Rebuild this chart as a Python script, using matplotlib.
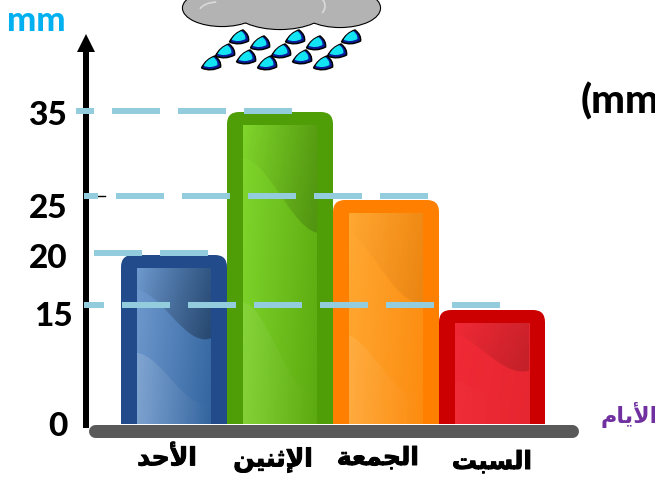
import numpy as np
import matplotlib
matplotlib.use("Agg")
import matplotlib.pyplot as plt
import matplotlib.patheffects as pe
from matplotlib.patches import FancyBboxPatch, Polygon, Ellipse, PathPatch, Arc
from matplotlib.path import Path
from matplotlib.colors import to_rgb
from matplotlib.transforms import Affine2D

plt.rcParams['lines.scale_dashes'] = False

# ---------- data ----------
days = ["الأحد", "الإثنين", "الجمعة", "السبت"]
rain_mm = [20, 35, 25, 15]
tick_labels = ["35", "25", "20", "15", "0"]
y_unit = "mm"
right_note = "(mm)"
x_title = "الأيام"

# the hand-drawn axis of the picture is not linear: value -> height above baseline (px)
scale_values = [-7, 0, 15, 20, 25, 35, 48]
scale_heights = [-54, 0, 114, 169, 224, 312, 424]

# guide lines: value, first pixel, last pixel, dash offset
guide_levels = [35.1, 25.45, 20.18, 15.45]
guide_starts = [76, 84, 94, 84]
guide_ends = [292, 428, 208, 500]
guide_offsets = [30, 34, 0, 28]

rim_colors = ["#214B8A", "#4F9E08", "#FF8000", "#CC0000"]
grad_left = ["#6F9ACF", "#80D62C", "#FFA832", "#F02A36"]
grad_right = ["#34659F", "#5CAA10", "#FC8C10", "#E62630"]
dark_strength = [.32, .16, .07, .16]
light_strength = [.16, .08, .09, .02]
wave_x = [0, .25, .55, 1]
wave_upper = [[.14, .205, .35, .45], [.11, .15, .25, .36], [.08, .175, .32, .42], [.11, .205, .37, .47]]
wave_lower = [[.545, .61, .76, .86], [.595, .65, .79, .88], [.58, .65, .78, .87], [.57, .64, .765, .85]]

drop_x = [239, 260, 295, 316, 351, 225, 246, 281, 302, 337, 211, 267, 323]
drop_y = [37, 43, 37, 43, 37, 51, 57, 51, 57, 51, 63, 63, 63]

# ---------- Arabic shaping (matplotlib has no shaping engine) ----------
FORMS = {
    'ا': (0xFE8D, 0xFE8E, None, None), 'أ': (0xFE83, 0xFE84, None, None),
    'إ': (0xFE87, 0xFE88, None, None), 'د': (0xFEA9, 0xFEAA, None, None),
    'ة': (0xFE93, 0xFE94, None, None),
    'ب': (0xFE8F, 0xFE90, 0xFE91, 0xFE92), 'ت': (0xFE95, 0xFE96, 0xFE97, 0xFE98),
    'ث': (0xFE99, 0xFE9A, 0xFE9B, 0xFE9C), 'ج': (0xFE9D, 0xFE9E, 0xFE9F, 0xFEA0),
    'ح': (0xFEA1, 0xFEA2, 0xFEA3, 0xFEA4), 'س': (0xFEB1, 0xFEB2, 0xFEB3, 0xFEB4),
    'ع': (0xFEC9, 0xFECA, 0xFECB, 0xFECC), 'ل': (0xFEDD, 0xFEDE, 0xFEDF, 0xFEE0),
    'م': (0xFEE1, 0xFEE2, 0xFEE3, 0xFEE4), 'ن': (0xFEE5, 0xFEE6, 0xFEE7, 0xFEE8),
    'ي': (0xFEF1, 0xFEF2, 0xFEF3, 0xFEF4),
}
LAM_ALEF = {'ا': (0xFEFB, 0xFEFC), 'أ': (0xFEF7, 0xFEF8), 'إ': (0xFEF9, 0xFEFA)}


def shape(word):
    out, i, prev_joins = [], 0, False
    while i < len(word):
        ch = word[i]
        nxt = word[i + 1] if i + 1 < len(word) else None
        if ch == 'ل' and nxt in LAM_ALEF:
            out.append(chr(LAM_ALEF[nxt][1 if prev_joins else 0]))
            prev_joins = False
            i += 2
            continue
        iso, fin, ini, med = FORMS[ch]
        joins_next = ini is not None and nxt is not None
        if prev_joins and joins_next:
            code = med
        elif prev_joins:
            code = fin
        elif joins_next:
            code = ini
        else:
            code = iso
        out.append(chr(code))
        prev_joins = joins_next
        i += 1
    return ''.join(reversed(out))


# ---------- axes ----------
W, H = 655, 478
fig = plt.figure(figsize=(W / 100, H / 100), dpi=100, facecolor='white')
ax = fig.add_axes([0, 0, 1, 1])
ax.set_yscale('function', functions=(lambda v: np.interp(v, scale_values, scale_heights),
                                     lambda h: np.interp(h, scale_heights, scale_values)))
ax.set_ylim(scale_values[0], scale_values[-1])
ax.set_xlim(-174 / 106, (W - 174) / 106)
ax.axis('off')

px = fig.add_axes([0, 0, 1, 1], zorder=5)
px.patch.set_alpha(0)
px.axis('off')


def to_px(x, y):
    d = ax.transData.transform((x, y))
    return d[0], H - d[1]


# ---------- bars ----------
xpos = np.arange(len(days))
bars = ax.bar(xpos, rain_mm, width=1.0, color=rim_colors, linewidth=0)

INSET_X, INSET_TOP, R = 16, 13, 12
for i, rect in enumerate(bars):
    x0, top = to_px(rect.get_x(), rect.get_height())
    x1, bot = to_px(rect.get_x() + rect.get_width(), 0)
    clip = FancyBboxPatch((x0 + R, H - bot - 20 + R), x1 - x0 - 2 * R, bot - top + 20 - 2 * R,
                          boxstyle=f"round,pad={R},rounding_size={R}",
                          transform=Affine2D(), fc='none', ec='none')
    ax.add_patch(clip)
    rect.set_clip_path(clip)

    l, r, t = x0 + INSET_X, x1 - INSET_X, top + INSET_TOP
    gx, gy = np.meshgrid(np.linspace(0, 1, 60), np.linspace(0, 1, 120))
    g = np.clip(0.8 * gx + 0.2 * gy, 0, 1)[..., None]
    img = (1 - g) * np.array(to_rgb(grad_left[i])) + g * np.array(to_rgb(grad_right[i]))
    ext = (l, r, bot, t)
    px.imshow(img, extent=ext, aspect='auto', interpolation='bilinear', zorder=2)

    fx = np.linspace(0, 1, 40)
    up = np.polyval(np.polyfit(wave_x, wave_upper[i], 3), fx)
    lo = np.polyval(np.polyfit(wave_x, wave_lower[i], 3), fx)
    h = bot - t
    w = r - l
    dark = list(zip(l + fx * w, t + up * h)) + [(r, t), (l, t)]
    light = list(zip(l + fx * w, t + lo * h)) + [(r, bot), (l, bot)]

    # dark wave: fades in towards its lower right end
    a = np.clip(gx * .7 + gy * max(wave_upper[i]) ** -1 * .3, 0, 1) * dark_strength[i]
    rgba = np.dstack([np.zeros_like(a)] * 3 + [a])
    im = px.imshow(rgba, extent=ext, aspect='auto', interpolation='bilinear', zorder=3)
    poly = Polygon(dark, closed=True, transform=px.transData, fc='none', ec='none')
    px.add_patch(poly)
    im.set_clip_path(poly)

    # light wave: strongest at its left
    a = np.clip(1 - gx, 0, 1) * light_strength[i]
    rgba = np.dstack([np.ones_like(a)] * 3 + [a])
    im = px.imshow(rgba, extent=ext, aspect='auto', interpolation='bilinear', zorder=3)
    poly = Polygon(light, closed=True, transform=px.transData, fc='none', ec='none')
    px.add_patch(poly)
    im.set_clip_path(poly)

# ---------- axis and baseline ----------
px.plot([86, 86], [50, 428], color='black', lw=6 * .72, solid_capstyle='butt', zorder=4)
px.add_patch(Polygon([(77, 52), (95, 52), (86, 34)], closed=True, fc='black', ec='none', zorder=4))
px.plot([98, 105], [195.5, 195.5], color='black', lw=1, zorder=4)
px.plot([95, 571.5], [430.5, 430.5], color='#595959', lw=13 * .72, solid_capstyle='round', zorder=6)

# ---------- guides ----------
for lev, a, b, off in zip(guide_levels, guide_starts, guide_ends, guide_offsets):
    y = to_px(0, lev)[1]
    px.plot([a, b], [y, y], color='#93CDDD', lw=6 * .72, solid_capstyle='butt',
            linestyle=(off * .72, (48 * .72, 18 * .72)), zorder=7)

# ---------- text ----------
LAT = dict(family='Lato', fontweight='black', fontsize=24, color='black', va='center')
for txt, xr, yc in zip(tick_labels, [67, 67, 67, 73, 68], [115, 209, 259, 317, 426]):
    px.text(xr, yc, txt, ha='right', **LAT)
px.text(7, 21, y_unit, ha='left', va='center', family='Lato', fontweight='black', fontsize=25, color='#00B0F0')
px.text(581, 101, right_note, ha='left', clip_on=True, family='Lato', fontweight='black', fontsize=29,
        color='black', va='center')

stroke = [pe.withStroke(linewidth=.7, foreground='black')]
for d, xc, yc in zip(days, [167, 273, 378, 492], [458, 460, 458, 462]):
    px.text(xc, yc, shape(d), ha='center', va='center', family='DejaVu Sans', fontweight='bold',
            fontsize=18, color='black', path_effects=stroke)
px.text(600, 415, shape(x_title), ha='left', va='center', family='DejaVu Sans', fontweight='bold',
        fontsize=16, color='#7030A0')

# ---------- cloud and rain ----------
lobes = [(222, 8, 78, 36), (280, 8, 94, 42), (340, 8, 80, 38)]
for cx, cy, ew, eh in lobes:
    px.add_patch(Ellipse((cx, cy), ew, eh, fc='#B3B3B3', ec='black', lw=1.6, zorder=8))
for cx, cy, ew, eh in lobes:
    px.add_patch(Ellipse((cx, cy), ew, eh, fc='#B3B3B3', ec='none', zorder=9))
px.add_patch(Arc((218, 12), 38, 20, theta1=190, theta2=260, ec='#DADADA', lw=1.2, zorder=10))
px.add_patch(Arc((310, 6), 30, 24, theta1=300, theta2=30, ec='#DADADA', lw=1.2, zorder=10))

drop_shape = [(-9.5, 5), (-5, -4), (4, -7), (10.5, -2), (9.5, 4), (0, 9), (-9.5, 5)]
drop_codes = [Path.MOVETO, Path.CURVE3, Path.CURVE3, Path.CURVE3, Path.CURVE3, Path.CURVE3, Path.CURVE3]
for dx, dy in zip(drop_x, drop_y):
    outer = np.array(drop_shape, float) + (dx, dy)
    inner = np.array(drop_shape, float) * .72 + (dx - .5, dy - .8)
    px.add_patch(PathPatch(Path(outer, drop_codes), fc='#0A1E9C', ec='black', lw=1.1, zorder=8))
    px.add_patch(PathPatch(Path(inner, drop_codes), fc='#12E4F4', ec='none', zorder=9))

px.set_xlim(0, W)
px.set_ylim(H, 0)
fig.savefig('out.png', dpi=100)
